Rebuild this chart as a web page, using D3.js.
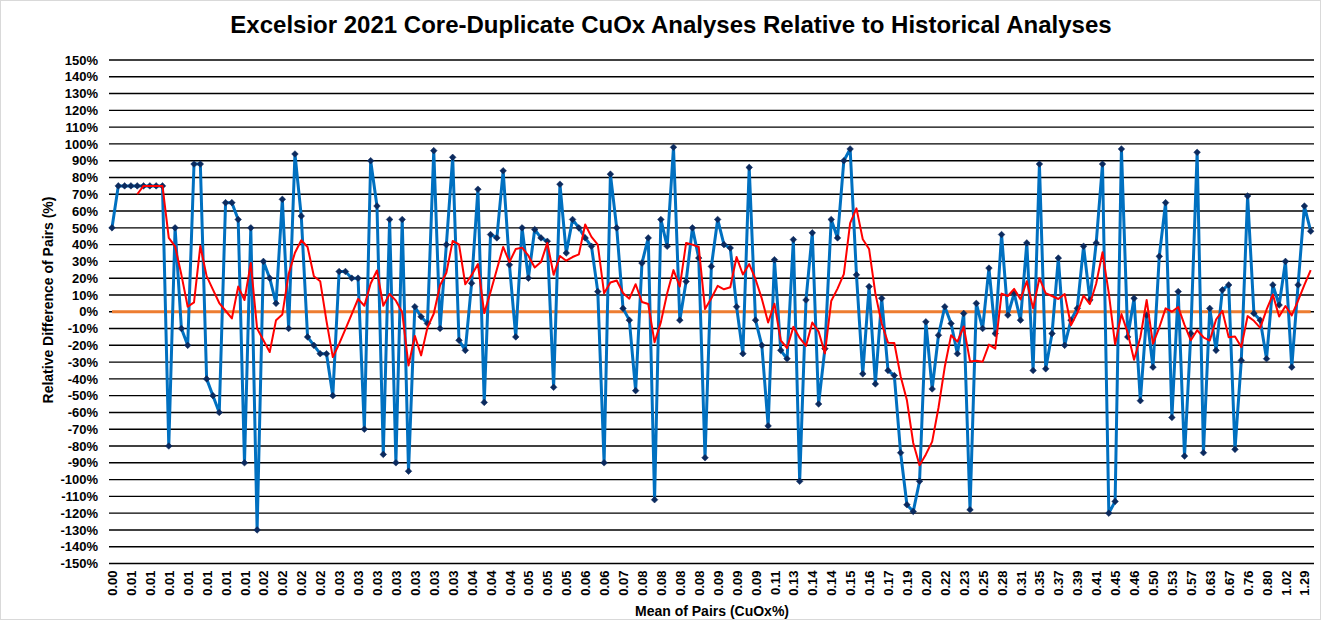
<!DOCTYPE html>
<html>
<head>
<meta charset="utf-8">
<script src="https://cdn.jsdelivr.net/npm/d3@7"></script>
<style>
  html, body { margin: 0; padding: 0; background: #fff; }
  svg { display: block; font-family: "Liberation Sans", Arial, sans-serif; }
</style>
</head>
<body>
<svg id="chart" width="1328" height="620"></svg>
<script>
// ---- data ----
const title = "Excelsior 2021 Core-Duplicate CuOx Analyses Relative to Historical Analyses";
const yTitle = "Relative Difference of Pairs (%)";
const xTitle = "Mean of Pairs (CuOx%)";

// Relative difference of pairs (%), one per sample pair, sorted by mean grade
const relDiff = [
  50, 75, 75, 75, 75, 75, 75, 75, 75, -80,
  50, -10, -20, 88, 88, -40, -50, -60, 65, 65,
  55, -90, 50, -130, 30, 20, 5, 67, -10, 94,
  57, -15, -20, -25, -25, -50, 24, 24, 20, 20,
  -70, 90, 63, -85, 55, -90, 55, -95, 3, -3,
  -7, 96, -10, 40, 92, -17, -23, 17, 73, -54,
  46, 44, 84, 28, -15, 50, 20, 49, 44, 42,
  -45, 76, 35, 55, 50, 44, 39, 12, -90, 82,
  50, 2, -5, -47, 29, 44, -112, 55, 39, 98,
  -5, 18, 50, 32, -87, 27, 55, 40, 38, 3,
  -25, 86, -5, -20, -68, 31, -23, -28, 43, -101,
  7, 47, -55, -22, 55, 44, 90, 97, 22, -37,
  15, -43, 8, -35, -38, -84, -115, -119, -101, -6,
  -46, -14, 3, -7, -25, -1, -118, 5, -10, 26,
  -13, 46, -2, 11, -5, 41, -35, 88, -34, -13,
  32, -20, -5, 2, 39, 7, 41, 88, -120, -113,
  97, -15, 8, -53, -2, -33, 33, 65, -63, 12,
  -86, -13, 95, -84, 2, -23, 13, 16, -82, -29,
  69, -1, -5, -28, 16, 4, 30, -33, 16, 63,
  48
];

// category tick labels (every 3rd pair is labelled on the axis)
const tickLabels = [
  "0.00","0.01","0.01","0.01","0.01","0.01","0.01","0.01",
  "0.02","0.02","0.02","0.02",
  "0.03","0.03","0.03","0.03","0.03","0.03","0.03",
  "0.04","0.04","0.04",
  "0.05","0.05","0.05","0.06","0.06","0.07",
  "0.08","0.08","0.08","0.08","0.09","0.09","0.09",
  "0.11","0.13","0.14","0.14","0.15","0.16","0.17","0.19","0.20",
  "0.22","0.23","0.25","0.28","0.31","0.35","0.37","0.39","0.41",
  "0.45","0.46","0.50","0.53","0.57","0.63","0.67","0.76","0.80","1.02","1.29"
];
const tickEvery = 3;
const yTicks = d3.range(-150, 151, 10);
const maPeriod = 5; // moving-average trendline period

// ---- layout ----
const svg = d3.select("#chart");
const W = 1328, H = 620;
const plot = { left: 109, right: 1314, top: 60, bottom: 563.5 };

const idx = relDiff.map((d, i) => i);
const x = d3.scalePoint().domain(idx).range([112, 1310.7]);
const y = d3.scaleLinear().domain([-150, 150]).range([plot.bottom, plot.top]);

// chart border
svg.append("rect").attr("x", 0.5).attr("y", 0.5).attr("width", 1320).attr("height", H - 1)
  .attr("fill", "#fff").attr("stroke", "#d9d9d9").attr("stroke-width", 1);

// title
svg.append("text").attr("x", 671).attr("y", 33).attr("text-anchor", "middle")
  .attr("font-size", 24).attr("font-weight", "bold").attr("fill", "#000").text(title);

// gridlines
svg.append("g").selectAll("line").data(yTicks).join("line")
  .attr("x1", plot.left).attr("x2", plot.right)
  .attr("y1", d => y(d)).attr("y2", d => y(d))
  .attr("stroke", "#000").attr("stroke-width", 1.4);

// y axis labels
const yAxis = d3.axisLeft(y).tickValues(yTicks).tickFormat(d => d + "%").tickSize(0).tickPadding(0);
const gy = svg.append("g").attr("transform", "translate(98,0)").call(yAxis);
gy.select(".domain").remove();
gy.selectAll("text").attr("font-size", 13).attr("font-weight", "bold")
  .attr("font-family", "Liberation Sans, Arial, sans-serif").attr("fill", "#000");

// x axis labels
const xAxis = d3.axisBottom(x)
  .tickValues(idx.filter(i => i % tickEvery === 0))
  .tickFormat(i => tickLabels[i / tickEvery])
  .tickSize(0).tickPadding(0);
const gx = svg.append("g").attr("transform", `translate(0,${plot.bottom})`).call(xAxis);
gx.select(".domain").remove();
gx.selectAll("text")
  .attr("font-size", 13).attr("font-weight", "bold")
  .attr("font-family", "Liberation Sans, Arial, sans-serif").attr("fill", "#000")
  .attr("transform", "rotate(-90)")
  .attr("text-anchor", "end").attr("dy", "0.35em").attr("x", -7).attr("y", 0);

// axis titles
svg.append("text").attr("transform", "translate(53,300) rotate(-90)")
  .attr("text-anchor", "middle").attr("font-size", 14).attr("font-weight", "bold").text(yTitle);
svg.append("text").attr("x", 712).attr("y", 616).attr("text-anchor", "middle")
  .attr("font-size", 14).attr("font-weight", "bold").text(xTitle);

// zero reference line
svg.append("line")
  .attr("x1", x(idx[0])).attr("x2", x(idx[idx.length - 1]))
  .attr("y1", y(0)).attr("y2", y(0))
  .attr("stroke", "#ED7D31").attr("stroke-width", 3);

// data line
const line = d3.line().x((d, i) => x(i)).y(d => y(d));
svg.append("path").datum(relDiff).attr("d", line)
  .attr("fill", "none").attr("stroke", "#0070C0").attr("stroke-width", 3)
  .attr("stroke-linejoin", "round");

// markers
const diamond = d3.symbol().type(d3.symbolSquare).size(22);
svg.append("g").selectAll("path").data(relDiff).join("path")
  .attr("d", diamond)
  .attr("transform", (d, i) => `translate(${x(i)},${y(d)}) rotate(45)`)
  .attr("fill", "#0b2a5e").attr("stroke", "#0b2a5e").attr("stroke-width", 0.5);

// 5-period moving average trendline (as produced by the spreadsheet trendline)
const ma = [];
for (let i = maPeriod - 1; i < relDiff.length; i++) {
  ma.push([i, d3.mean(relDiff.slice(i - maPeriod + 1, i + 1))]);
}
svg.append("path").datum(ma)
  .attr("d", d3.line().x(d => x(d[0])).y(d => y(d[1])))
  .attr("fill", "none").attr("stroke", "#FF0000").attr("stroke-width", 2)
  .attr("stroke-linejoin", "round");
</script>
</body>
</html>
